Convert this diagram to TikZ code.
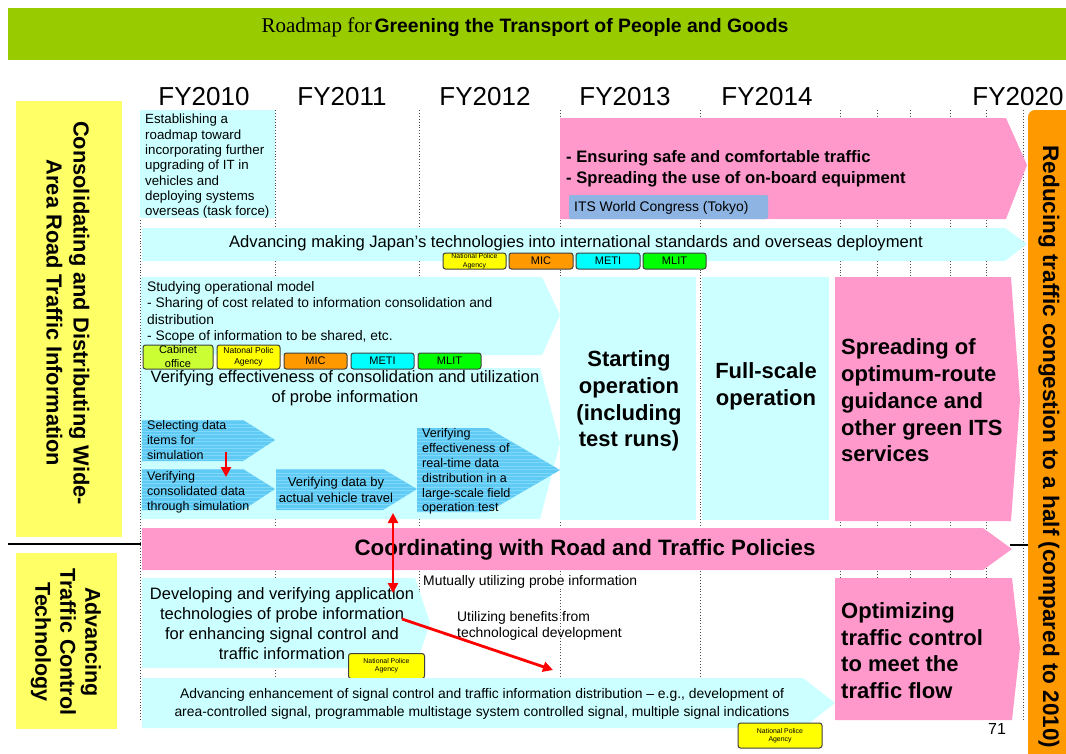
\documentclass[tikz,border=0pt]{standalone}
\usepackage{fontspec}
\setmainfont{Liberation Sans}
\newfontfamily\titleserif{Liberation Serif}
\usetikzlibrary{arrows.meta}
\definecolor{titlegreen}{HTML}{99CC00}
\definecolor{lcyan}{HTML}{CCFFFF}
\definecolor{pinkc}{HTML}{FF99CC}
\definecolor{orangec}{HTML}{FF9900}
\definecolor{labelyellow}{HTML}{FFFF66}
\definecolor{agyellow}{HTML}{FFFF00}
\definecolor{cabgreen}{HTML}{CCFF33}
\definecolor{meticyan}{HTML}{00FFFF}
\definecolor{mlitgreen}{HTML}{00FF00}
\definecolor{itsblue}{HTML}{8DB4E2}
\definecolor{innerblue}{HTML}{5FCBF5}
\definecolor{stripeblue}{HTML}{80D8FA}
\newcommand\fsz[2]{\fontsize{#1}{#2}\selectfont}
\newcommand\innerarrow[1]{%
  \fill[innerblue] #1;
  \begin{scope}
    \clip #1;
    \foreach \yy in {410,413.5,...,520} \draw[stripeblue, line width=0.7pt] (130,\yy) -- (570,\yy);
  \end{scope}}
\begin{document}
\begin{tikzpicture}[x=1pt,y=-1pt,
  every node/.style={inner sep=0pt},
  agency/.style={draw=black!75, line width=1pt, rounded corners=2.5pt, align=center},
  redarrow/.style={draw=red, line width=2.8pt, -{Triangle[length=10pt,width=10pt]}},
  redboth/.style={draw=red, line width=2.8pt, {Triangle[length=10pt,width=10pt]}-{Triangle[length=10pt,width=10pt]}},
  yearlbl/.style={font=\fsz{26}{30}},
  bigbold/.style={font=\bfseries\fsz{22}{26.7}},
  vdots/.style={draw=black!70, dotted, line width=0.9pt}]
\useasboundingbox (0,0) rectangle (1066,753);
\fill[white] (0,0) rectangle (1066,753);

% title bar
\fill[titlegreen] (8,8) rectangle (1066,60);
\node (title) at (525,27) {{\titleserif\fsz{21}{24}Roadmap for} {\bfseries\fsz{19.4}{23}Greening the Transport of People and Goods}};

% years
\node[yearlbl] (fy10) at (204,97) {FY2010};
\node[yearlbl] (fy11) at (342,97) {FY2011};
\node[yearlbl] (fy12) at (485,97) {FY2012};
\node[yearlbl] (fy13) at (625,97) {FY2013};
\node[yearlbl] (fy14) at (767,97) {FY2014};
\node[yearlbl] (fy20) at (1018,97) {FY2020};

% dotted year lines
\foreach \xx in {140,275,419,560,700,840,877,910,950,986,1023}
  \draw[vdots] (\xx,110) -- (\xx,720);

% left labels
\fill[labelyellow] (16,101) rectangle (122,537);
\node[rotate=-90, align=center, font=\bfseries\fsz{21.8}{27}] (lab1) at (68,313)
  {Consolidating and Distributing Wide-\\Area Road Traffic Information};
\fill[labelyellow] (16,553) rectangle (117,729);
\node[rotate=-90, align=center, font=\bfseries\fsz{21.5}{25}] (lab2) at (66,642)
  {Advancing\\Traffic Control\\Technology};
\draw[line width=1.5pt] (8,544) -- (141,544);
\draw[line width=1.5pt] (1010,545) -- (1028,545);

% right orange bar
\fill[orangec, rounded corners=7pt] (1028,110) rectangle (1090,780);
\node[rotate=-90, font=\bfseries\fsz{22.5}{26}] (goal) at (1049,447)
  {Reducing traffic congestion to a half (compared to 2010)};

% establishing box
\fill[lcyan] (140,110) rectangle (275,218);
\node[anchor=north west, align=left, font=\fsz{13.3}{15.3}] (estab) at (145,114)
  {Establishing a\\roadmap toward\\incorporating further\\upgrading of IT in\\vehicles and\\deploying systems\\overseas (task force)};

% pink top arrow
\fill[pinkc] (560,118) -- (1006,118) -- (1027,165) -- (1006,219) -- (560,219) -- cycle;
\node[anchor=west, align=left, font=\bfseries\fsz{16.6}{21}] (ensure) at (566,169)
  {- Ensuring safe and comfortable traffic\\- Spreading the use of on-board equipment};
\fill[itsblue, rounded corners=2pt] (569,195) rectangle (768,219);
\node[anchor=west, font=\fsz{13.9}{16}] (its) at (574,207.5) {ITS World Congress (Tokyo)};

% international standards arrow
\fill[lcyan] (142,228) -- (1005,228) -- (1027,244) -- (1005,261) -- (142,261) -- cycle;
\node[font=\fsz{16.6}{18}] (intl) at (576,243.5)
  {Advancing making Japan’s technologies into international standards and overseas deployment};

% agencies row 1
\node[agency, fill=agyellow, minimum width=63, minimum height=16, font=\fsz{6.9}{8.5}] (npaA) at (474.5,261) {National Police\\Agency};
\node[agency, fill=orangec, minimum width=64, minimum height=16, font=\fsz{11}{13}] (micA) at (541,261) {MIC};
\node[agency, fill=meticyan, minimum width=64, minimum height=16, font=\fsz{11}{13}] (metiA) at (608,261) {METI};
\node[agency, fill=mlitgreen, minimum width=63, minimum height=16, font=\fsz{11}{13}] (mlitA) at (674.5,261) {MLIT};

% studying arrow
\fill[lcyan] (141,277) -- (542,277) -- (560,315) -- (542,355) -- (141,355) -- cycle;
\node[anchor=north west, align=left, font=\fsz{13.8}{16.5}] (study) at (147,281)
  {Studying operational model\\- Sharing of cost related to information consolidation and\\distribution\\- Scope of information to be shared, etc.};

% verifying effectiveness arrow
\fill[lcyan] (141,368) -- (540,368) -- (560,443) -- (540,519) -- (141,519) -- cycle;
\node[align=center, font=\fsz{16.5}{20}] (verif) at (345,388)
  {Verifying effectiveness of consolidation and utilization\\of probe information};

% agencies row 2
\node[agency, fill=cabgreen, minimum width=70, minimum height=24, font=\fsz{11}{14}] (cab) at (178,357) {Cabinet\\office};
\node[agency, fill=agyellow, minimum width=63, minimum height=24, font=\fsz{8.5}{10.5}] (npaB) at (248.5,357) {Natonal Polic\\Agency};
\node[agency, fill=orangec, minimum width=63, minimum height=16, font=\fsz{11}{13}] (micB) at (315.5,361) {MIC};
\node[agency, fill=meticyan, minimum width=63, minimum height=16, font=\fsz{11}{13}] (metiB) at (382.5,361) {METI};
\node[agency, fill=mlitgreen, minimum width=63, minimum height=16, font=\fsz{11}{13}] (mlitB) at (449.5,361) {MLIT};

% inner striped arrows
\innerarrow{(142,420) -- (243,420) -- (275,440) -- (243,461) -- (142,461) -- cycle}
\innerarrow{(142,469) -- (243,469) -- (275,489) -- (243,510) -- (142,510) -- cycle}
\innerarrow{(276,469) -- (383,469) -- (417,489) -- (383,510) -- (276,510) -- cycle}
\innerarrow{(417,428) -- (488,428) -- (560,470) -- (488,512) -- (417,512) -- cycle}
\node[anchor=north west, align=left, font=\fsz{12.5}{15}] (sel) at (147,420.5)
  {Selecting data\\items for\\simulation};
\node[anchor=north west, align=left, font=\fsz{12.5}{15}] (sim) at (147,471.5)
  {Verifying\\consolidated data\\through simulation};
\node[align=center, font=\fsz{13}{16}] (travel) at (336,490)
  {Verifying data by\\actual vehicle travel};
\node[anchor=north west, align=left, font=\fsz{12.6}{14.8}] (field) at (422,428.5)
  {Verifying\\effectiveness of\\real-time data\\distribution in a\\large-scale field\\operation test};
\coordinate (selDown) at (226,452);
\coordinate (simTop) at (226,477);
\draw[redarrow] (selDown) -- (simTop);

% operation boxes
\fill[lcyan] (560,277) rectangle (696,520);
\node[align=center, bigbold] (start) at (629,401)
  {Starting\\operation\\(including\\test runs)};
\fill[lcyan] (702,277) rectangle (829,520);
\node[align=center, bigbold] (full) at (766,386)
  {Full-scale\\operation};
\fill[pinkc] (835,277) -- (1011,277) -- (1020,400) -- (1011,521) -- (835,521) -- cycle;
\node[anchor=west, align=left, bigbold] (spread) at (841,400.5)
  {Spreading of\\optimum-route\\guidance and\\other green ITS\\services};

% coordinating arrow
\fill[pinkc] (142,528) -- (983,528) -- (1012,549) -- (983,570) -- (142,570) -- cycle;
\node[font=\bfseries\fsz{22.3}{25}] (coord) at (585,550) {Coordinating with Road and Traffic Policies};

% developing arrow
\fill[lcyan] (142,578) -- (415,578) -- (430,623) -- (415,668) -- (142,668) -- cycle;
\node[align=center, font=\fsz{16.5}{20}] (devel) at (282,624)
  {Developing and verifying application\\technologies of probe information\\for enhancing signal control and\\traffic information};
\node[agency, fill=agyellow, minimum width=76, minimum height=25, font=\fsz{6.9}{8.2}] (npaC) at (386.5,666) {National Police\\Agency};

\node[anchor=west, fill=white, inner sep=1pt, font=\fsz{13.9}{16}] (mutual) at (422,582) {Mutually utilizing probe information};
\node[anchor=north west, align=left, font=\fsz{13.9}{16.5}] (benefit) at (457,611)
  {Utilizing benefits from\\technological development};

\coordinate (travelBottom) at (393,513);
\coordinate (develTop) at (393,593);
\draw[redboth] (travelBottom) -- (develTop);
\coordinate (develRight) at (402,619);
\coordinate (enhTop) at (553,670);
\draw[redarrow] (develRight) -- (enhTop);

% optimizing box
\fill[pinkc] (835,578) -- (1012,578) -- (1020,648) -- (1012,720) -- (835,720) -- cycle;
\node[anchor=west, align=left, bigbold] (optim) at (841,650.5)
  {Optimizing\\traffic control\\to meet the\\traffic flow};

% enhancement arrow
\fill[lcyan] (142,678) -- (803,678) -- (835,703) -- (803,728) -- (142,728) -- cycle;
\node[align=center, font=\fsz{13.9}{18}] (enh) at (482,704)
  {Advancing enhancement of signal control and traffic information distribution – e.g., development of\\area-controlled signal, programmable multistage system controlled signal, multiple signal indications};
\node[agency, fill=agyellow, minimum width=84, minimum height=25, font=\fsz{6.9}{8}] (npaD) at (780,735.5) {National Police\\Agency};

\node[font=\fsz{16}{18}] (page) at (997,729) {71};
\end{tikzpicture}
\end{document}
